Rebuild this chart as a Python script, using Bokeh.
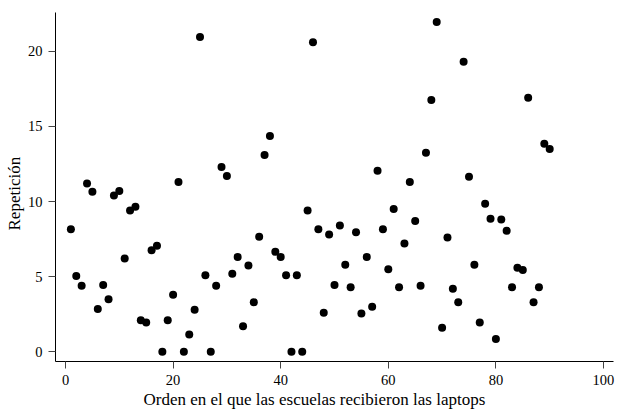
from bokeh.plotting import figure
from bokeh.models import Range1d, FixedTicker, ColumnDataSource, Title
from bokeh.embed import file_html
from bokeh.resources import INLINE

orden = [1, 2, 3, 4, 5, 6, 7, 8, 9, 10, 11, 12, 13, 14, 15, 16, 17, 18, 19, 20,
         21, 22, 23, 24, 25, 26, 27, 28, 29, 30, 31, 32, 33, 34, 35, 36, 37, 38, 39, 40,
         41, 42, 43, 44, 45, 46, 47, 48, 49, 50, 51, 52, 53, 54, 55, 56, 57, 58, 59, 60,
         61, 62, 63, 64, 65, 66, 67, 68, 69, 70, 71, 72, 73, 74, 75, 76, 77, 78, 79, 80,
         81, 82, 83, 84, 85, 86, 87, 88, 89, 90]
repeticion = [8.15, 5.05, 4.4, 11.2, 10.65, 2.85, 4.45, 3.5, 10.4, 10.7,
              6.2, 9.4, 9.65, 2.1, 1.95, 6.75, 7.05, 0.0, 2.1, 3.8,
              11.3, 0.0, 1.15, 2.8, 20.95, 5.1, 0.0, 4.4, 12.3, 11.7,
              5.2, 6.3, 1.7, 5.75, 3.3, 7.65, 13.1, 14.35, 6.65, 6.3,
              5.1, 0.0, 5.1, 0.0, 9.4, 20.6, 8.15, 2.6, 7.8, 4.45,
              8.4, 5.8, 4.3, 7.95, 2.55, 6.3, 3.0, 12.05, 8.15, 5.5,
              9.5, 4.3, 7.2, 11.3, 8.7, 4.4, 13.25, 16.75, 21.95, 1.6,
              7.6, 4.2, 3.3, 19.3, 11.65, 5.8, 1.95, 9.85, 8.85, 0.85,
              8.8, 8.05, 4.3, 5.6, 5.45, 16.9, 3.3, 4.3, 13.85, 13.5]
x_ticks = [0, 20, 40, 60, 80, 100]
y_ticks = [0, 5, 10, 15, 20]
x_title = "Orden en el que las escuelas recibieron las laptops"
y_title = "Repetición"

FONT = "Liberation Serif"

p = figure(width=618, height=414, output_backend="svg", toolbar_location=None,
           x_range=Range1d(-1.86, 101.86), y_range=Range1d(-0.645, 22.575),
           min_border_left=55, min_border_right=5, min_border_top=12, min_border_bottom=53)
p.outline_line_color = None
p.background_fill_color = "white"
p.border_fill_color = "white"
p.xgrid.visible = False
p.ygrid.visible = False

src = ColumnDataSource(dict(x=orden, y=repeticion))
p.scatter("x", "y", source=src, size=8, color="black", line_color=None)

p.xaxis.ticker = FixedTicker(ticks=x_ticks)
p.yaxis.ticker = FixedTicker(ticks=y_ticks)
p.xaxis.minor_tick_line_color = None
p.yaxis.minor_tick_line_color = None
for ax in (p.xaxis, p.yaxis):
    ax.axis_line_color = "black"
    ax.axis_line_width = 1
    ax.major_tick_line_color = "#444444"
    ax.major_tick_out = 7
    ax.major_tick_in = 0
    ax.major_label_text_font = FONT
    ax.major_label_text_font_size = "14.5px"
    ax.major_label_text_color = "black"
p.xaxis.major_label_standoff = 6
p.yaxis.major_label_standoff = 6
p.yaxis.major_label_orientation = "horizontal"

# Axis titles as panel titles, placed like the original
p.add_layout(Title(text=x_title, text_font=FONT, text_font_size="17px",
                   text_font_style="normal", text_color="black",
                   align="left", offset=88, standoff=0), "below")
p.add_layout(Title(text=y_title, text_font=FONT, text_font_size="17px",
                   text_font_style="normal", text_color="black",
                   align="left", offset=131, standoff=1), "left")

open("out.html", "w").write(file_html(p, INLINE))
